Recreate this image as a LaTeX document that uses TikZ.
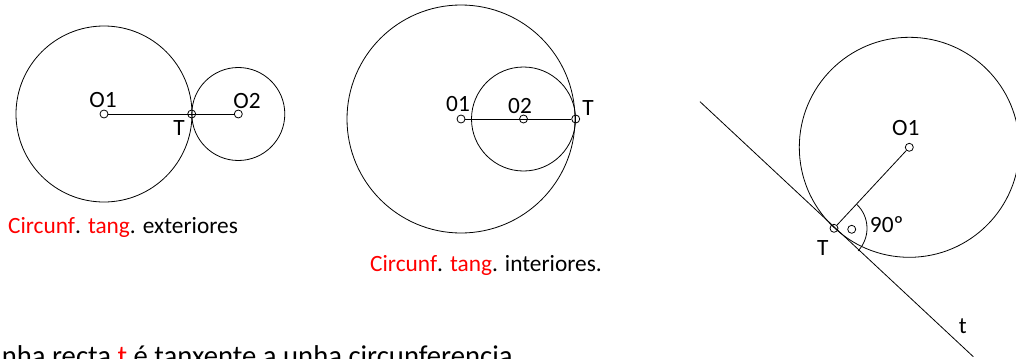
\documentclass[tikz,border=0pt]{standalone}
\usepackage{fontspec}
\setmainfont{Carlito}
\usetikzlibrary{positioning, calc}

\begin{document}
\begin{tikzpicture}[x=0.75pt, y=0.75pt, line width=0.6pt,
    font=\fontsize{17.5}{21}\selectfont,
    pto/.style={draw, circle, inner sep=0pt, minimum size=6pt}]
    \clip (0,0) rectangle (1016,358);

    % circunferencias tangentes exteriores
    \node (o1a) [pto] at (104,244) {};
    \node (ta) [pto] at (191.7,244) {};
    \node (o2a) [pto] at (238.3,244) {};
    \draw (o1a.center) circle (88);
    \draw (o2a.center) circle (46.5);
    \draw (o1a) -- (o2a);
    \node (lo1a) at (103,258) {O1};
    \node (lo2a) at (247,257) {O2};
    \node (lta) at (179,230) {T};
    \node (capa) at (123,131) {\textcolor{red}{Circunf}. \textcolor{red}{tang}. exteriores};

    % circunferencias tangentes interiores
    \node (o1b) [pto] at (461,239) {};
    \node (o2b) [pto] at (523.5,239) {};
    \node (tb) [pto] at (575.7,239) {};
    \draw (o1b.center) circle (114);
    \draw (o2b.center) circle (52);
    \draw (o1b) -- (tb);
    \node (lo1b) at (458,254) {01};
    \node (lo2b) at (520,252) {02};
    \node (ltb) at (588,250) {T};
    \node (capb) at (486,93) {\textcolor{red}{Circunf}. \textcolor{red}{tang}. interiores.};

    % recta tanxente
    \node (o1c) [pto] at (909.3,210.7) {};
    \node (tc) [pto] at (834,129.7) {};
    \node (ac) [pto] at (851.7,128.7) {};
    \coordinate (r1) at (700,256.3);
    \coordinate (r2) at (973.3,1.3);
    \draw (o1c.center) circle (110);
    \draw (o1c) -- (tc);
    \draw (r1) -- (r2);
    \draw ($(tc.center)+(47:33)$) arc (47:-43:33);
    \node (lo1c) at (905.7,229.7) {O1};
    \node (ltc) at (822.7,109.7) {T};
    \node (lac) at (886.7,133) {90º};
    \node (lrc) at (962.7,32) {t};

    \node (txt) [anchor=base west, inner sep=0pt, font=\fontsize{21.5}{25}\selectfont] at (-17,-7)
        {Unha recta \textcolor{red}{t} é tanxente a unha circunferencia};
\end{tikzpicture}
\end{document}
